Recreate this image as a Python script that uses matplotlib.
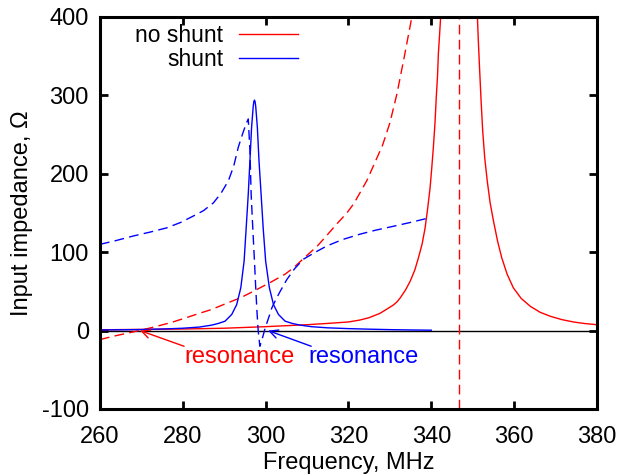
import numpy as np
import matplotlib as mpl
mpl.use("Agg")
import matplotlib.pyplot as plt

plt.rcParams['font.family'] = ['Liberation Sans', 'DejaVu Sans']
plt.rcParams['axes.unicode_minus'] = False

# no shunt, |Z| (red solid); the top of the peak is off the chart
f_noshunt_abs = [260, 270, 280, 290, 300, 310, 316, 320, 322.8, 325, 327.6, 329,
                 330.8, 331.7, 332.5, 333.8, 334.9, 336.0, 336.9, 337.8, 338.5,
                 339.1, 339.7, 340.1, 340.5, 340.9, 341.2, 341.5, 341.7, 342.0,
                 342.3, 346.7, 351.1, 351.35, 351.6, 352.0, 352.4, 352.9, 353.5,
                 354.2, 355.0, 356.0, 357.0, 358.3, 359.8, 361.7, 363.9, 366.2,
                 368.7, 371.5, 374.3, 377, 380]
z_noshunt_abs = [1, 1.5, 2, 3, 5, 7.5, 9.5, 11, 13.5, 16.5, 22, 26.5,
                 32.5, 36.5, 41.8, 52, 63, 77, 93, 111, 131,
                 155, 182, 207, 234, 266, 298, 325, 353, 378,
                 404, 2000, 404, 370, 340, 295, 255, 220, 191,
                 163, 140, 114, 93, 72, 54.6, 41, 31, 23.5,
                 18.3, 14, 11, 9, 7.5]

# no shunt, reactance (red dashed)
f_noshunt_x = [260, 263, 266, 269.5, 273, 277, 280, 284, 287, 290.2, 294, 297,
               301, 304.7, 306.7, 310, 312.5, 314.7, 317, 319.6, 321.3, 322.8,
               324.5, 326, 328.2, 330, 331.7, 333.5, 335.3, 336]
z_noshunt_x = [-11.5, -7.5, -4, 0, 4.5, 10, 15, 22, 27, 34, 42, 50,
               61, 72, 80, 96, 108, 121, 135, 150, 162, 176,
               192, 210, 236, 265, 302, 350, 400, 420]
f_pole = 346.7

# shunt, |Z| (blue solid)
f_shunt_abs = [260, 270, 276, 280, 284, 287, 288.5, 290.2, 291.8, 293.0, 294.0,
               294.8, 295.3, 295.8, 296.2, 296.6, 297.0, 297.15, 297.3, 297.45,
               297.6, 298.0, 298.4, 298.9, 299.4, 300.0, 300.9, 301.9, 303.1,
               304.7, 306.5, 308.3, 311, 315, 320, 325, 330, 335, 340]
z_shunt_abs = [0.8, 1.3, 2.2, 3, 4.5, 7, 9, 12, 20.5, 33, 54.6,
               88.6, 131, 174, 216, 259, 286, 292, 294, 292,
               286, 259, 216, 174, 131, 88.6, 54.6, 33, 20.5,
               12, 9, 7, 5, 3.5, 2.5, 1.8, 1.2, 0.8, 0.5]

# shunt, reactance (blue dashed)
f_shunt_x = [260, 264, 268, 272, 276.1, 279.5, 282.5, 285, 287.4, 289.2, 291.0,
             292.3, 293.4, 294.5, 295.3, 295.8, 296.2, 296.5, 296.9, 297.3,
             297.6, 297.9, 298.2, 298.6, 299.2, 299.9, 300.7, 301.5, 302.5,
             303.5, 305.1, 307, 309.1, 312, 314.8, 318.5, 322.8, 326.5, 330.8,
             335, 338.9, 339.7]
z_shunt_x = [110, 115, 120.6, 125.5, 131, 138, 146, 153, 163, 175, 191,
             210, 234, 252, 264, 270, 230, 174, 130, 88.6,
             55, 24.7, 0, -20, -10, 3.5, 16, 29, 40,
             50, 65, 79, 91, 100, 108, 116, 123, 128, 133,
             138, 143, 144]

fig = plt.figure(figsize=(6.3, 4.76), dpi=100)
ax = fig.add_axes([0.1587, 0.1408, 0.7889, 0.8235])

ax.axhline(0, color='black', lw=1.0, zorder=1)

dash = (0, (7, 3.8))
ax.plot(f_noshunt_abs, z_noshunt_abs, color='red', lw=1.0, label='no shunt')
ax.plot(f_noshunt_x, z_noshunt_x, color='red', lw=1.0, linestyle=dash)
ax.axvline(f_pole, color='red', lw=1.0, linestyle=dash)
ax.plot(f_shunt_abs, z_shunt_abs, color='blue', lw=1.0, label='shunt')
ax.plot(f_shunt_x, z_shunt_x, color='blue', lw=1.0, linestyle=dash)

# resonance markers
ax.annotate('', xy=(269.7, 0), xytext=(280.3, -20),
            arrowprops=dict(arrowstyle='->', color='red', lw=1.0,
                            shrinkA=0, shrinkB=0, mutation_scale=15))
ax.text(293.8, -34, 'resonance', color='red', fontsize=17,
        ha='center', va='center')
ax.annotate('', xy=(300.6, 0), xytext=(311.0, -20),
            arrowprops=dict(arrowstyle='->', color='blue', lw=1.0,
                            shrinkA=0, shrinkB=0, mutation_scale=15))
ax.text(323.6, -34, 'resonance', color='blue', fontsize=17,
        ha='center', va='center')

ax.set_xlim(260, 380)
ax.set_ylim(-100, 400)
ax.set_xticks(np.arange(260, 381, 20))
ax.set_yticks(np.arange(-100, 401, 100))
ax.tick_params(direction='in', length=6, width=2, top=True, right=True,
               labelsize=17)
ax.tick_params(axis='x', pad=12)
ax.tick_params(axis='y', pad=8)
for s in ax.spines.values():
    s.set_linewidth(2.2)

ax.set_xlabel('Frequency, MHz', fontsize=17, labelpad=3)
ax.set_ylabel('Input impedance, Ω', fontsize=17, labelpad=6)

leg = ax.legend(loc='upper right', bbox_to_anchor=(0.398, 0.983), frameon=False,
                markerfirst=False, fontsize=16.5, handlelength=2.55,
                handletextpad=0.7, labelspacing=0.08, borderaxespad=0,
                borderpad=0)
for t in leg.get_texts():
    t.set_ha('right')
leg._legend_box.align = 'right'

fig.savefig('out.png', dpi=100)
